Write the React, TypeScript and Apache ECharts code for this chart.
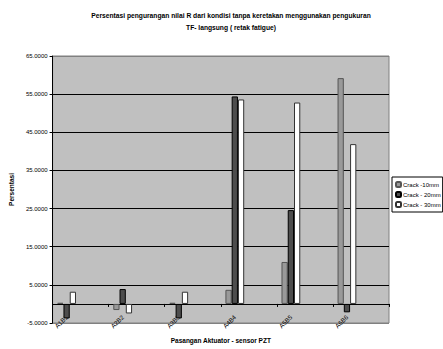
import React, { useEffect, useRef } from "react";
import * as echarts from "echarts";

// Pairs of actuator/sensor, with blank spacer slots between them
const categories = [
  "A1B1", "", "A2B2", "", "A3B3", "", "A4B4", "", "A5B5", "", "A6B6", "",
];

const crack10 = [0.3, null, -1.6, null, 0.3, null, 3.7, null, 11.0, null, 59.2, null];
const crack20 = [-3.8, null, 3.9, null, -3.8, null, 54.4, null, 24.6, null, -2.2, null];
const crack30 = [3.2, null, -2.5, null, 3.2, null, 53.6, null, 52.8, null, 41.9, null];

const seriesNames = ["Crack -10mm", "Crack - 20mm", "Crack - 30mm"];

const FONT = "'Liberation Sans', Arial, sans-serif";

export default function App() {
  const ref = useRef<HTMLDivElement>(null);

  useEffect(() => {
    if (!ref.current) return;
    const chart = echarts.init(ref.current, null, { renderer: "svg" });

    const barBase = {
      type: "bar" as const,
      xAxisIndex: 0,
      barGap: "0%",
      barCategoryGap: "33%",
    };

    chart.setOption({
      animation: false,
      textStyle: { fontFamily: FONT },
      graphic: [
        {
          type: "text",
          x: 231,
          y: 9,
          style: {
            text:
              "Persentasi pengurangan nilai R dari kondisi tanpa keretakan menggunakan pengukuran\nTF- langsung ( retak fatigue)",
            textAlign: "center",
            fontFamily: FONT,
            fontWeight: "bold",
            fontSize: 6.7,
            lineHeight: 12,
            fill: "#000",
          },
        },
      ],
      legend: {
        data: seriesNames,
        orient: "vertical",
        left: 392,
        top: 177,
        itemWidth: 5,
        itemHeight: 5,
        itemGap: 3,
        padding: [4, 2, 4, 3],
        borderColor: "#000",
        borderWidth: 1,
        backgroundColor: "#fff",
        textStyle: { fontSize: 6, color: "#000", fontFamily: FONT, padding: [0, 0, 0, -3] },
      },
      grid: {
        left: 45,
        right: 54,
        top: 56,
        bottom: 20,
        show: true,
        backgroundColor: "#C0C0C0",
        borderColor: "#808080",
        borderWidth: 1,
      },
      xAxis: [
        {
          type: "category",
          data: categories,
          position: "bottom",
          axisLine: { onZero: true, lineStyle: { color: "#000", width: 1 } },
          axisTick: { show: true, length: 3, lineStyle: { color: "#000" } },
          axisLabel: { show: false },
          splitLine: { show: false },
        },
        {
          type: "category",
          data: categories,
          position: "bottom",
          axisLine: { show: false, onZero: false },
          axisTick: { show: false },
          axisLabel: {
            show: true,
            interval: 0,
            rotate: 45,
            margin: -7,
            fontSize: 6.3,
            color: "#000",
            fontFamily: FONT,
          },
          name: "Pasangan Aktuator - sensor PZT",
          nameLocation: "middle",
          nameGap: 14,
          nameTextStyle: { fontSize: 6.5, fontWeight: "bold", color: "#000", fontFamily: FONT },
        },
      ],
      yAxis: {
        type: "value",
        min: -5,
        max: 65,
        interval: 10,
        axisLine: { show: true, lineStyle: { color: "#000", width: 1 } },
        axisTick: { show: true, length: 3, lineStyle: { color: "#000" } },
        axisLabel: {
          formatter: (v: number) => v.toFixed(4),
          fontSize: 6,
          color: "#000",
          margin: 5,
          fontFamily: FONT,
        },
        splitLine: {
          show: true,
          lineStyle: {
            color: ["#808080", "#000", "#000", "#000", "#000", "#000", "#000", "#808080"],
            width: 1,
          },
        },
        name: "Persentasi",
        nameLocation: "middle",
        nameGap: 34,
        nameTextStyle: { fontSize: 6.5, fontWeight: "bold", color: "#000", fontFamily: FONT },
      },
      series: [
        {
          ...barBase,
          name: seriesNames[0],
          data: crack10,
          itemStyle: { color: "#999999", borderColor: "#555", borderWidth: 1 },
        },
        {
          ...barBase,
          name: seriesNames[1],
          data: crack20,
          itemStyle: { color: "#4D4D4D", borderColor: "#000", borderWidth: 1 },
        },
        {
          ...barBase,
          name: seriesNames[2],
          data: crack30,
          itemStyle: { color: "#FFFFFF", borderColor: "#333", borderWidth: 1 },
        },
      ],
    });

    return () => chart.dispose();
  }, []);

  return <div ref={ref} style={{ width: 443, height: 349, position: "absolute", left: 0, top: 0 }} />;
}
